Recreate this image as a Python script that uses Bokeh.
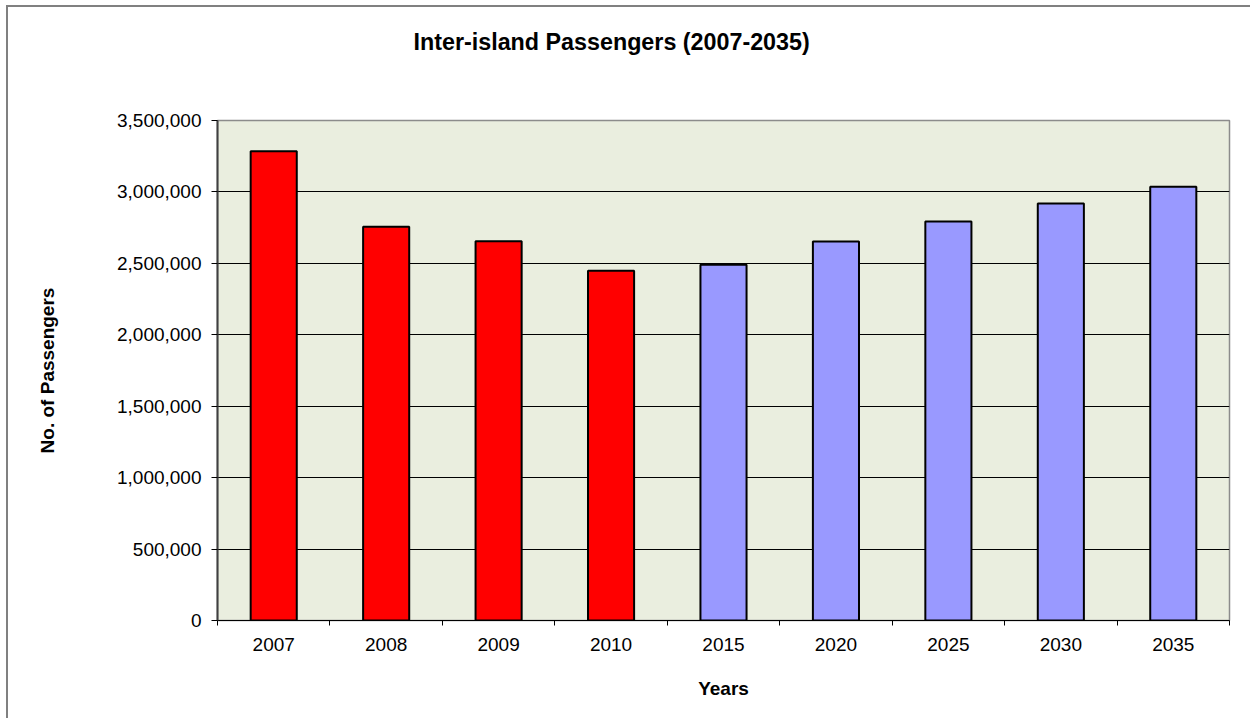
from bokeh.plotting import figure
from bokeh.models import (FixedTicker, NumeralTickFormatter, Range1d,
                          ColumnDataSource, Title)
from bokeh.embed import file_html
from bokeh.resources import INLINE

# ---- data ----
years = ["2007", "2008", "2009", "2010", "2015", "2020", "2025", "2030", "2035"]
passengers = [3285000, 2756000, 2655000, 2448000, 2490000, 2653000, 2793000, 2919000, 3036000]
kind = ["actual", "actual", "actual", "actual",
        "projection", "projection", "projection", "projection", "projection"]
y_ticks = [0, 500000, 1000000, 1500000, 2000000, 2500000, 3000000, 3500000]
title_text = "Inter-island Passengers (2007-2035)"
x_title = "Years"
y_title = "No. of Passengers"

# ---- styling ----
FONT = "Liberation Sans"
colors = {"actual": "#FF0000", "projection": "#9999FF"}

n = len(years)
xs = [i + 0.5 for i in range(n)]
src = ColumnDataSource(dict(x=xs, y=passengers, year=years,
                            color=[colors[k] for k in kind]))

p = figure(output_backend="svg", toolbar_location=None,
           x_range=Range1d(0, n), y_range=Range1d(y_ticks[0], y_ticks[-1]),
           frame_width=1012, frame_height=500,
           min_border_left=209, min_border_right=21,
           min_border_top=113, min_border_bottom=98)
p.styles = {"border-left": "2px solid #808080", "border-top": "2px solid #808080",
            "margin-left": "6px", "margin-top": "5px"}

p.background_fill_color = "#EAEEDF"
p.border_fill_color = "white"
p.outline_line_color = "#8C8C8C"
p.outline_line_width = 1.5

p.vbar(x="x", top="y", width=0.41, source=src, fill_color="color",
       line_color="black", line_width=2)

# title: a blank spacer next to the frame, then the real title above it
p.title.visible = False
p.add_layout(Title(text=" ", text_font_size="1px", standoff=63), "above")
p.add_layout(Title(text=title_text, align="left", offset=196, standoff=0,
                   text_font=FONT, text_font_style="bold",
                   text_font_size="23.3px", text_color="black"), "above")

# x axis: labels at bar centres, tick marks at category boundaries
xa = p.xaxis[0]
xa.ticker = FixedTicker(ticks=xs, minor_ticks=list(range(n + 1)))
xa.major_label_overrides = {x: y for x, y in zip(xs, years)}
xa.major_tick_out = 0
xa.major_tick_in = 0
xa.minor_tick_out = 5
xa.minor_tick_in = 0
xa.minor_tick_line_color = "black"
xa.axis_line_color = "black"
xa.axis_line_width = 1
xa.major_label_text_font = FONT
xa.major_label_text_font_size = "19px"
xa.major_label_text_color = "black"
xa.major_label_standoff = 12
xa.axis_label = x_title
xa.axis_label_text_font = FONT
xa.axis_label_text_font_style = "bold"
xa.axis_label_text_font_size = "19px"
xa.axis_label_text_color = "black"
xa.axis_label_standoff = 24

ya = p.yaxis[0]
ya.ticker = FixedTicker(ticks=y_ticks, minor_ticks=[])
ya.formatter = NumeralTickFormatter(format="0,0")
ya.major_tick_out = 6
ya.major_tick_in = 0
ya.major_tick_line_color = "black"
ya.axis_line_color = "#404040"
ya.axis_line_width = 2
ya.major_label_text_font = FONT
ya.major_label_text_font_size = "19px"
ya.major_label_text_color = "black"
ya.major_label_standoff = 10
ya.axis_label = y_title
ya.axis_label_text_font = FONT
ya.axis_label_text_font_style = "bold"
ya.axis_label_text_font_size = "19px"
ya.axis_label_text_color = "black"
ya.axis_label_standoff = 56

p.xgrid.grid_line_color = None
p.ygrid.ticker = FixedTicker(ticks=y_ticks[1:-1])
p.ygrid.grid_line_color = "black"
p.ygrid.grid_line_width = 1

open("out.html", "w").write(file_html(p, INLINE))
